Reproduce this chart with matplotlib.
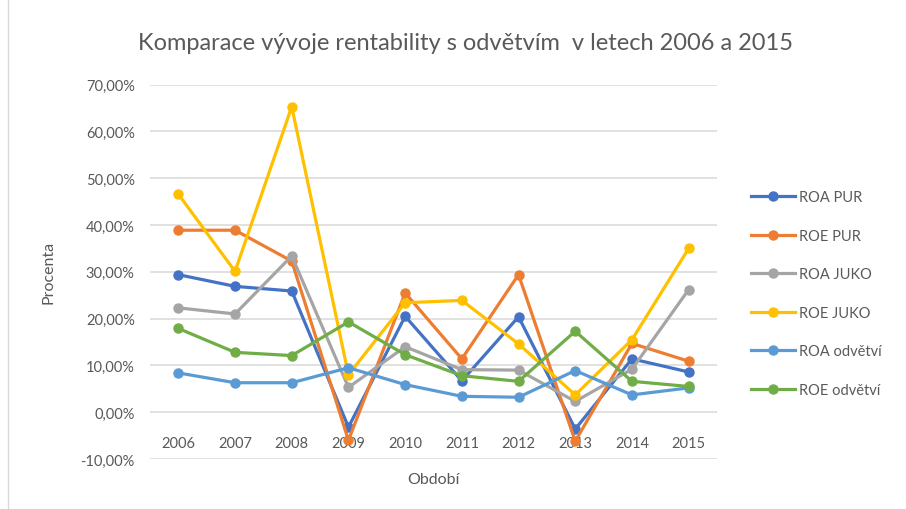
import matplotlib
matplotlib.use("Agg")
import matplotlib.pyplot as plt
from matplotlib.lines import Line2D
import numpy as np

years = ["2006", "2007", "2008", "2009", "2010", "2011", "2012", "2013", "2014", "2015"]
roa_pur = [29.4, 26.9, 25.9, -3.2, 20.5, 6.7, 20.4, -3.6, 11.4, 8.6]
roe_pur = [38.9, 38.9, 32.3, -6.0, 25.5, 11.4, 29.4, -6.2, 14.7, 10.9]
roa_juko = [22.3, 21.0, 33.4, 5.3, 14.0, 9.1, 9.0, 2.3, 9.2, 26.2]
roe_juko = [46.6, 30.1, 65.3, 8.0, 23.4, 23.9, 14.6, 3.7, 15.5, 35.0]
roa_odv = [8.4, 6.3, 6.3, 9.5, 5.9, 3.4, 3.2, 8.9, 3.7, 5.2]
roe_odv = [17.9, 12.8, 12.1, 19.3, 12.3, 7.8, 6.6, 17.3, 6.6, 5.5]

series_names = ["ROA PUR", "ROE PUR", "ROA JUKO", "ROE JUKO", "ROA odvětví", "ROE odvětví"]
series_vals = [roa_pur, roe_pur, roa_juko, roe_juko, roa_odv, roe_odv]
colors = ["#4472C4", "#ED7D31", "#A5A5A5", "#FFC000", "#5B9BD5", "#70AD47"]
yticks = [-10, 0, 10, 20, 30, 40, 50, 60, 70]

plt.rcParams['font.family'] = ['Lato', 'DejaVu Sans']
txt = "#595959"

fig = plt.figure(figsize=(9.06, 5.10), dpi=100)
ax = fig.add_axes([150/906, 1-460/510, (717-150)/906, (460-85.7)/510])

x = np.arange(len(years))
for name, vals, c in zip(series_names, series_vals, colors):
    ax.plot(x, vals, color=c, lw=2.3, marker='o', markersize=6.5, label=name,
            solid_joinstyle='round', zorder=3)

ax.set_xlim(-0.5, len(years)-0.5)
ax.set_ylim(-10, 70)
ax.set_yticks(yticks)
ax.set_yticklabels([f"{v:.2f}%".replace('.', ',') for v in yticks])
ax.grid(axis='y', color='#D9D9D9', lw=1.1, zorder=0)
ax.set_axisbelow(True)
for s in ax.spines.values():
    s.set_visible(False)
ax.tick_params(axis='y', length=0, pad=11, labelsize=10.5, labelcolor=txt)

ax.set_xticks(x)
ax.set_xticklabels(years)
ax.spines['bottom'].set_position(('data', 0))
ax.tick_params(axis='x', length=0, pad=17, labelsize=10.5, labelcolor=txt)

ax.set_ylabel("Procenta", fontsize=11.5, color=txt, labelpad=18)
fig.text(433.5/906, 1-480/510, "Období", ha='center', va='center', fontsize=11.5, color=txt)
fig.text(466/906, 1-43/510, "Komparace vývoje rentability s odvětvím  v letech 2006 a 2015",
         ha='center', va='center', fontsize=17, color=txt)

handles = [Line2D([0], [0], color=c, lw=2.3, marker='o', markersize=6.5) for c in colors]
fig.legend(handles, series_names, loc='upper left', bbox_to_anchor=(738/906, 1-178/510),
           frameon=False, fontsize=10.5, labelcolor=txt, handlelength=3.0,
           handletextpad=0.25, labelspacing=1.68)

fig.add_artist(Line2D([8/906, 8/906], [0, 1], transform=fig.transFigure, color='#D9D9D9', lw=1))

fig.savefig("out.png", dpi=100)
